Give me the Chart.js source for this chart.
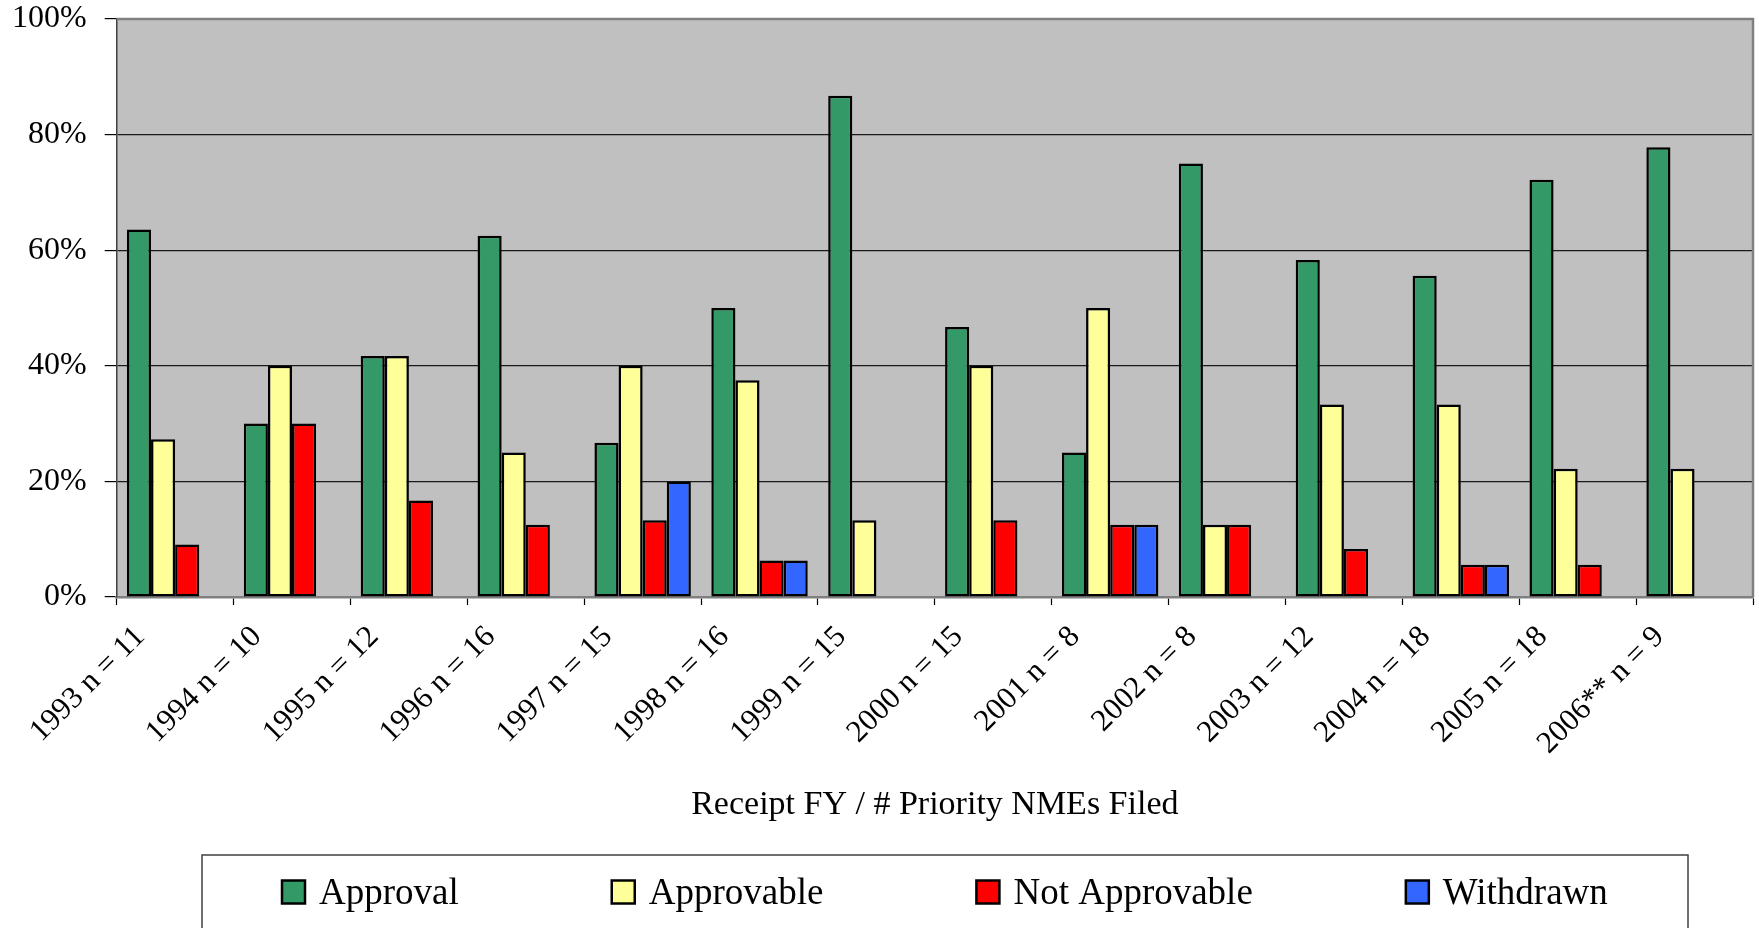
<!DOCTYPE html>
<html>
<head>
<meta charset="utf-8">
<title>Priority NME review outcomes by receipt year</title>
<script src="https://cdn.jsdelivr.net/npm/chart.js@4.4.1/dist/chart.umd.min.js"></script>
<style>
  html, body { margin: 0; padding: 0; background: #ffffff; overflow: hidden; }
  #wrap { width: 1759px; height: 928px; }
</style>
</head>
<body>
<div id="wrap"><canvas id="chart" width="1759" height="928"></canvas></div>
<script>
// Receipt fiscal year with number of priority NMEs filed
const categories = [
  '1993 n = 11', '1994 n = 10', '1995 n = 12', '1996 n = 16', '1997 n = 15',
  '1998 n = 16', '1999 n = 15', '2000 n = 15', '2001 n = 8', '2002 n = 8',
  '2003 n = 12', '2004 n = 18', '2005 n = 18', '2006** n = 9'
];

// Share of first-cycle actions (percent)
const approval      = [63.6, 30.0, 41.7, 62.5, 26.7, 50.0, 86.7, 46.7, 25.0, 75.0, 58.3, 55.6, 72.2, 77.8];
const approvable    = [27.3, 40.0, 41.7, 25.0, 40.0, 37.5, 13.3, 40.0, 50.0, 12.5, 33.3, 33.3, 22.2, 22.2];
const notApprovable = [9.1, 30.0, 16.7, 12.5, 13.3, 6.3, null, 13.3, 12.5, 12.5, 8.3, 5.6, 5.6, null];
const withdrawn     = [null, null, null, null, 20.0, 6.3, null, null, 12.5, null, null, 5.6, null, null];

const yTicks = [0, 20, 40, 60, 80, 100];
const seriesNames = ['Approval', 'Approvable', 'Not Approvable', 'Withdrawn'];
const seriesColors = ['#339966', '#FFFF99', '#FF0000', '#3366FF'];
const axisTitle = 'Receipt FY / # Priority NMEs Filed';

const FONT = '"Liberation Serif", "Times New Roman", serif';

// Grey plot background plus the top/right frame
const plotFrame = {
  id: 'plotFrame',
  beforeDraw(chart) {
    const { ctx, chartArea: a } = chart;
    ctx.save();
    ctx.fillStyle = '#C0C0C0';
    ctx.fillRect(a.left, a.top, a.right - a.left, a.bottom - a.top);
    ctx.restore();
  },
  afterDatasetsDraw(chart) {
    const { ctx, chartArea: a } = chart;
    ctx.save();
    ctx.strokeStyle = '#808080';
    ctx.lineWidth = 2.5;
    ctx.beginPath();
    ctx.moveTo(a.left, a.top);
    ctx.lineTo(a.right, a.top);
    ctx.lineTo(a.right, a.bottom);
    ctx.stroke();
    ctx.restore();
  }
};

// Framed legend row under the axis title
const boxedLegend = {
  id: 'boxedLegend',
  afterDraw(chart) {
    const { ctx } = chart;
    const o = chart.options.plugins.boxedLegend;
    ctx.save();
    ctx.strokeStyle = '#404040';
    ctx.lineWidth = 1.5;
    ctx.strokeRect(o.left, o.top, o.right - o.left, o.bottom - o.top);
    ctx.font = o.fontSize + 'px ' + FONT;
    ctx.textBaseline = 'middle';
    ctx.textAlign = 'left';
    let x = o.firstX;
    chart.data.datasets.forEach(ds => {
      const s = o.box;
      ctx.fillStyle = ds.backgroundColor;
      ctx.fillRect(x, o.itemY - s / 2, s, s);
      ctx.lineWidth = 2.5;
      ctx.strokeStyle = '#000';
      ctx.strokeRect(x, o.itemY - s / 2, s, s);
      ctx.fillStyle = '#000';
      const tx = x + s + o.textGap;
      ctx.fillText(ds.label, tx, o.itemY + 2);
      x = tx + ctx.measureText(ds.label).width + o.itemGap;
    });
    ctx.restore();
  }
};

const seriesData = [approval, approvable, notApprovable, withdrawn];

new Chart(document.getElementById('chart'), {
  type: 'bar',
  data: {
    labels: categories,
    datasets: seriesNames.map((name, i) => ({
      label: name,
      data: seriesData[i],
      backgroundColor: seriesColors[i],
      borderColor: '#000000',
      borderWidth: 2.5,
      borderSkipped: false,
      barPercentage: 1.0,
      categoryPercentage: 0.825
    }))
  },
  options: {
    responsive: false,
    animation: false,
    devicePixelRatio: 1,
    layout: { padding: { top: 19, right: 6, left: 0, bottom: 0 } },
    plugins: {
      legend: { display: false },
      tooltip: { enabled: false },
      boxedLegend: {
        left: 202, top: 855, right: 1688, bottom: 940,
        itemY: 892, firstX: 282, box: 23, textGap: 14, itemGap: 153, fontSize: 37
      }
    },
    scales: {
      x: {
        grid: {
          display: true,
          drawOnChartArea: false,
          drawTicks: true,
          tickLength: 8,
          tickColor: '#000000',
          tickWidth: 1.2,
          offset: true
        },
        border: { display: true, color: '#808080', width: 2.5 },
        ticks: {
          autoSkip: false,
          maxRotation: 45,
          minRotation: 45,
          padding: 14,
          labelOffset: -35,
          color: '#000000',
          font: { family: FONT, size: 31 }
        },
        title: {
          display: true,
          text: axisTitle,
          color: '#000000',
          font: { family: FONT, size: 34 },
          padding: { top: 0, bottom: 103 }
        },
        afterFit(scale) { scale.height = 331; }
      },
      y: {
        min: 0,
        max: 100,
        afterBuildTicks(scale) { scale.ticks = yTicks.map(v => ({ value: v })); },
        grid: {
          color: ctx => (ctx.tick && (ctx.tick.value === 100 || ctx.tick.value === 0)) ? 'rgba(0,0,0,0)' : '#1a1a1a',
          lineWidth: 1.2,
          drawTicks: true,
          tickLength: 12,
          tickColor: '#000000'
        },
        border: { display: true, color: '#404040', width: 1.5 },
        ticks: {
          padding: 18,
          color: '#000000',
          font: { family: FONT, size: 32 },
          callback: v => v + '%'
        },
        afterFit(scale) {
          scale.width = 116.7;
          scale.paddingTop = 0;
          scale.paddingBottom = 0;
        }
      }
    }
  },
  plugins: [plotFrame, boxedLegend]
});
</script>
</body>
</html>
